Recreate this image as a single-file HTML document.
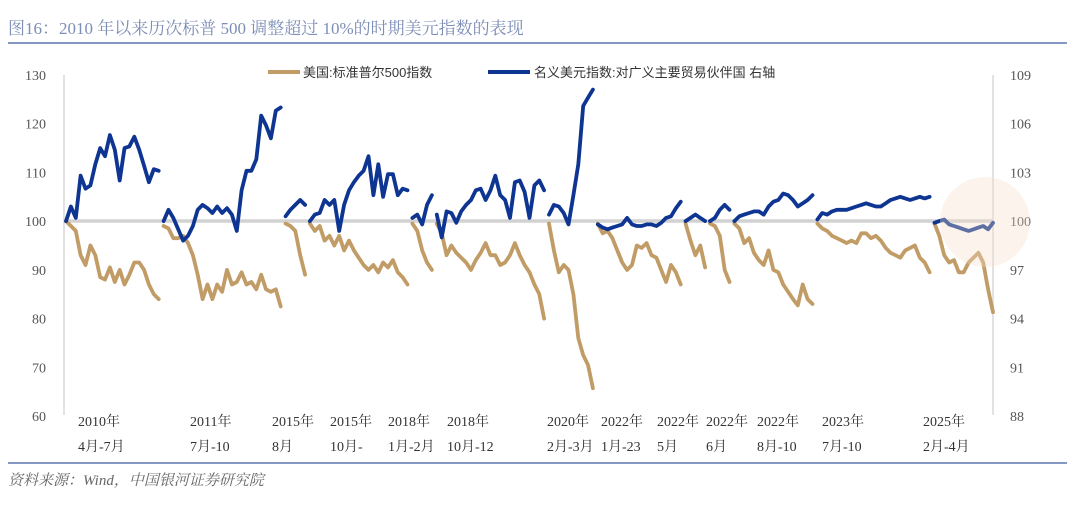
<!DOCTYPE html>
<html><head><meta charset="utf-8">
<style>
body{margin:0;background:#fff;width:1080px;height:511px;overflow:hidden;font-family:"Liberation Serif","Noto Serif CJK SC",serif;}
</style></head><body>
<svg id="chart" width="1080" height="511" xmlns="http://www.w3.org/2000/svg">
<text x="8" y="34" font-size="17" fill="#7c8db6" font-family="Liberation Serif, Noto Serif CJK SC, serif">图16：2010 年以来历次标普 500 调整超过 10%的时期美元指数的表现</text>
<line x1="8" y1="43" x2="1067" y2="43" stroke="#8597c4" stroke-width="2"/>
<line x1="8" y1="463" x2="1067" y2="463" stroke="#8597c4" stroke-width="2"/>
<text x="8" y="485" font-size="15" fill="#666" font-style="italic" font-family="Liberation Serif, Noto Serif CJK SC, serif">资料来源：Wind，中国银河证券研究院</text>
<line x1="64" y1="75" x2="64" y2="415" stroke="#e2e2e2" stroke-width="2"/>
<line x1="993" y1="75" x2="993" y2="415" stroke="#e2e2e2" stroke-width="2"/>
<g id="leftTicks"></g><g id="rightTicks"></g><g id="xLabels"></g>
<line x1="66" y1="221" x2="993" y2="221" stroke="#d2d2d2" stroke-width="3.5"/>
<g id="series"></g>
<circle cx="985" cy="222" r="45" fill="rgba(245,220,200,0.35)"/>
<g font-size="13" font-family="Liberation Sans, Noto Sans CJK SC, sans-serif" fill="#333">
<line x1="268" y1="72" x2="300" y2="72" stroke="#c19c66" stroke-width="4"/>
<text x="303" y="77">美国:标准普尔500指数</text>
<line x1="488" y1="72" x2="530" y2="72" stroke="#0d3591" stroke-width="4"/>
<text x="534" y="77">名义美元指数:对广义主要贸易伙伴国 右轴</text>
</g>
</svg>
<script>
const leftTickVals=[130,120,110,100,90,80,70,60];
const rightTickVals=[109,106,103,100,97,94,91,88];
const periodYears=["2010年","2011年","2015年","2015年","2018年","2018年","2020年","2022年","2022年","2022年","2022年","2023年","2025年"];
const periodMonths=["4月-7月","7月-10","8月","10月-","1月-2月","10月-12","2月-3月","1月-23","5月","6月","8月-10","7月-10","2月-4月"];
const spxSegments=[
[100,99,98,93,91,95,93,88.5,88,90.5,87.5,90,87,89,91.5,91.5,90,87,85,84],
[99,98.5,96.5,96.5,97,95.5,93,89,84,87,84,87,85.5,90,87,87.5,89.5,87,87.5,86,89,86,85.5,86,82.5],
[99.5,99,98,93,89],
[99.5,98,99,96,97,95,97,94,96,94,92.5,91,90,91,89.5,91.5,90.5,92,89.5,88.5,87],
[99.5,98,94,91.5,90],
[99.5,97.5,93,95,93.5,92.5,91.5,90,92,93.5,95.5,93,93,91,91.5,93,95.5,93,91,89.5,87,85,80],
[99.5,94,89.5,91,90,85,76,72.5,70.5,65.7],
[99.5,97.5,98,96.5,94,91.5,90,91,95,94.5,95.5,93,92.5,90,87.5,91,89.5,87],
[99.5,96,93,95,90.5],
[99.5,99,97,90,87.5],
[99.5,98.5,95.5,96.5,93.5,92,91,94,90,89.5,87,85.5,84,82.7,87,84,83],
[99.5,98.5,98,97,96.5,96,95.5,96,95.5,97.5,97.5,96.5,97,96,94.5,93.5,93,92.5,94,94.5,95,92.5,91.5,89.5],
[99.5,97,93,91.5,92,89.5,89.5,91.5,92.5,93.5,91.5,86,81.3]
];
const usdSegments=[
[100,100.9,100.2,102.8,102,102.2,103.5,104.5,104,105.3,104.4,102.5,104.5,104.6,105.2,104.4,103.4,102.4,103.2,103.1],
[100,100.7,100.2,99.5,98.8,99.1,99.7,100.7,101,100.8,100.5,100.9,100.5,100.8,100.4,99.4,101.9,103.1,103.1,103.8,106.5,105.9,105.1,106.8,107],
[100.3,100.7,101,101.3,101],
[100,100.4,100.5,101.3,101,101.3,99.4,101,101.9,102.4,102.8,103.1,104,101.6,103.5,101.5,102.9,102.9,101.6,102,101.9],
[100.2,100.4,99.8,101,101.6],
[100.4,99,100.6,100.5,99.9,100.6,101,101.3,101.9,102,101.3,101.9,102.8,101.6,101.3,100.2,102.4,102.5,101.8,100.2,102.2,102.5,101.9],
[100.4,101,100.9,100.5,99.8,101.6,103.5,107.1,107.6,108.1],
[99.8,99.6,99.5,99.6,99.7,99.8,100.2,99.8,99.7,99.7,99.8,99.8,99.7,99.9,100.2,100.3,100.8,101.2],
[100,100.2,100.4,100.2,100],
[100,100.2,100.7,101,100.7],
[100,100.3,100.4,100.5,100.6,100.6,100.4,100.9,101.2,101.3,101.7,101.6,101.3,100.9,101.1,101.3,101.6],
[100.1,100.5,100.4,100.6,100.7,100.7,100.7,100.8,100.9,101,101.1,101,100.9,100.9,101.1,101.3,101.4,101.5,101.4,101.3,101.4,101.5,101.4,101.5],
[99.9,100,100.1,99.8,99.7,99.6,99.5,99.4,99.5,99.6,99.7,99.5,99.9]
];
const NS="http://www.w3.org/2000/svg";
const X0=66,X1=993,YT=75,YB=416;
const total=spxSegments.reduce((a,s)=>a+s.length,0);
const xScale=i=>X0+i*(X1-X0)/(total-1);
const yLeft=v=>YB-(v-60)/(130-60)*(YB-YT);
const yRight=v=>YB-(v-88)/(109-88)*(YB-YT);
function mk(tag,attrs,parent){const e=document.createElementNS(NS,tag);for(const k in attrs)e.setAttribute(k,attrs[k]);parent.appendChild(e);return e;}
const lt=document.getElementById('leftTicks');
leftTickVals.forEach(v=>{const t=mk('text',{x:46,y:yLeft(v)+5,'text-anchor':'end','font-size':14,fill:'#555'},lt);

t.textContent=v;});
const rt=document.getElementById('rightTicks');
rightTickVals.forEach(v=>{const t=mk('text',{x:1010,y:yRight(v)+5,'font-size':14,fill:'#555'},rt);

t.textContent=v;});
const labelX=[78,190,272,330,388,447,547,601,657,706,757,822,923];
const xl=document.getElementById('xLabels');
periodYears.forEach((y,i)=>{
const a=mk('text',{x:labelX[i],y:426,'font-size':14,fill:'#333'},xl);

a.textContent=y;
const b=mk('text',{x:labelX[i],y:451,'font-size':14,fill:'#333'},xl);

b.textContent=periodMonths[i];});
const sg=document.getElementById('series');
function drawSegs(segs,yf,color,name){let idx=0;segs.forEach(seg=>{
const d=seg.map((v,j)=>(j?'L':'M')+xScale(idx+j).toFixed(1)+','+yf(v).toFixed(1)).join('');
idx+=seg.length;
const p=mk('path',{d:d,fill:'none',stroke:color,'stroke-width':3.8,'stroke-linejoin':'round','stroke-linecap':'round'},sg);

});}
drawSegs(spxSegments,yLeft,'#c19c66','spx-line-segment');
drawSegs(usdSegments,yRight,'#0d3591','usd-index-line-segment');
</script>
</body></html>
